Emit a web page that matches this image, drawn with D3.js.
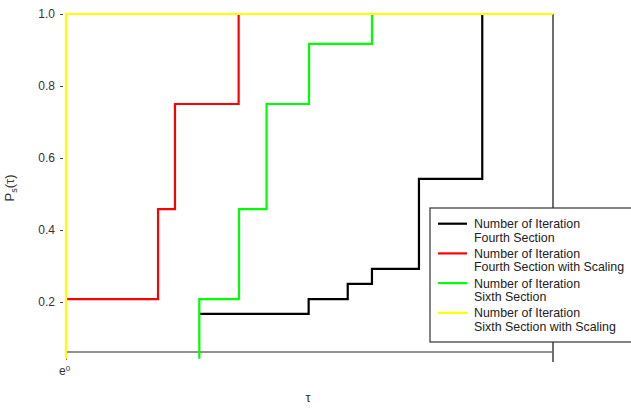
<!DOCTYPE html>
<html>
<head>
<meta charset="utf-8">
<script src="https://cdn.jsdelivr.net/npm/d3@7"></script>
<style>
  body { margin: 0; background: #fff; }
  svg { display: block; font-family: "Liberation Sans", Arial, sans-serif; }
</style>
</head>
<body>
<div id="chart"></div>
<script>
// x values are ln(tau), y values are P_s(tau)
const blackX = [1.095, 1.993, 2.314, 2.513, 2.899, 3.419, 4.0];
const blackY = [0.167, 0.208, 0.250, 0.292, 0.542, 1.0, 1.0];
const redX = [0, 0.756, 0.895, 1.418, 4.0];
const redY = [0.208, 0.458, 0.750, 1.0, 1.0];
const greenX = [1.095, 1.095, 1.421, 1.647, 1.996, 2.513, 4.0];
const greenY = [0.042, 0.208, 0.458, 0.750, 0.917, 1.0, 1.0];
const yellowX = [0, 0, 4.0];
const yellowY = [0.042, 1.0, 1.0];

const seriesNames = [
    ["Number of Iteration", "Fourth Section"],
    ["Number of Iteration", "Fourth Section with Scaling"],
    ["Number of Iteration", "Sixth Section"],
    ["Number of Iteration", "Sixth Section with Scaling"]
];
const seriesColors = ["#000000", "#ff0000", "#00ff00", "#ffff00"];
const yTicks = [0.2, 0.4, 0.6, 0.8, 1.0];

const series = [
    { xs: blackX, ys: blackY },
    { xs: redX, ys: redY },
    { xs: greenX, ys: greenY },
    { xs: yellowX, ys: yellowY }
].map((s, i) => ({
    name: seriesNames[i],
    color: seriesColors[i],
    values: s.xs.map((x, j) => ({ x: x, y: s.ys[j] }))
}));

const W = 631, H = 409;
const margin = { top: 14, right: 78, bottom: 57, left: 66 };
const width = W - margin.left - margin.right;
const height = H - margin.top - margin.bottom;

const svg = d3.select("#chart").append("svg")
    .attr("width", W)
    .attr("height", H);

const g = svg.append("g")
    .attr("transform", `translate(${margin.left},${margin.top})`);

const x = d3.scaleLinear().domain([0, 4.0]).range([0, width]);
const y = d3.scaleLinear().domain([0.061, 1.0]).range([height, 0]);

// frame: bottom axis line and right edge
g.append("line")
    .attr("x1", 0).attr("x2", width)
    .attr("y1", height).attr("y2", height)
    .attr("stroke", "#6e6e6e").attr("stroke-width", 1.5);
g.append("line")
    .attr("x1", width).attr("x2", width)
    .attr("y1", 0).attr("y2", height + 10)
    .attr("stroke", "#6e6e6e").attr("stroke-width", 2);

// y axis
const yAxis = g.append("g")
    .attr("transform", "translate(-3,0)")
    .call(d3.axisLeft(y).tickValues(yTicks).tickFormat(d3.format(".1f")).tickSize(3).tickPadding(5));
yAxis.select(".domain").remove();
yAxis.selectAll(".tick line").attr("stroke", "#444");
yAxis.selectAll("text").attr("fill", "#333").style("font-size", "12px")
    .style("font-family", "'Liberation Sans', Arial, sans-serif");

// x axis
const xAxis = g.append("g")
    .attr("transform", `translate(0,${height})`)
    .call(d3.axisBottom(x).tickValues([0]).tickFormat(() => "e").tickSize(8).tickPadding(6));
xAxis.select(".domain").remove();
xAxis.selectAll(".tick line").attr("stroke", "#6e6e6e");
xAxis.selectAll("text").attr("fill", "#333").style("font-size", "12px")
    .style("font-family", "'Liberation Sans', Arial, sans-serif")
    .attr("dx", "-2")
    .append("tspan").attr("dy", "-0.45em").style("font-size", "8px").text("0");

// axis titles
const yt = svg.append("text")
    .attr("transform", "translate(14,188) rotate(-90)")
    .attr("text-anchor", "middle")
    .attr("fill", "#333")
    .style("font-size", "13px");
yt.append("tspan").text("P");
yt.append("tspan").attr("dy", "3").style("font-size", "9px").text("s");
yt.append("tspan").attr("dy", "-3").text("(τ)");

svg.append("text")
    .attr("x", 308).attr("y", 402)
    .attr("text-anchor", "middle")
    .attr("fill", "#333")
    .style("font-size", "13px")
    .text("τ");

// step lines
const line = d3.line()
    .x(d => x(d.x))
    .y(d => y(d.y))
    .curve(d3.curveStepAfter);

g.selectAll(".series")
    .data(series)
    .enter()
    .append("path")
    .attr("class", "series")
    .attr("d", d => line(d.values))
    .attr("fill", "none")
    .attr("stroke", d => d.color)
    .attr("stroke-width", 2.2);

// legend
const legend = svg.append("g").attr("transform", "translate(430,208)");
legend.append("rect")
    .attr("x", 0).attr("y", 0)
    .attr("width", 220).attr("height", 134)
    .attr("fill", "#fff")
    .attr("stroke", "#333")
    .attr("stroke-width", 1.2);

const item = legend.selectAll(".legend-item")
    .data(series)
    .enter()
    .append("g")
    .attr("class", "legend-item")
    .attr("transform", (d, i) => `translate(0,${15.7 + i * 29.7})`);

item.append("line")
    .attr("x1", 8).attr("x2", 37)
    .attr("y1", 0).attr("y2", 0)
    .attr("stroke", d => d.color)
    .attr("stroke-width", 2.2);

item.append("text")
    .attr("x", 44).attr("y", 4.5)
    .attr("fill", "#222")
    .style("font-size", "12.4px")
    .text(d => d.name[0]);
item.append("text")
    .attr("x", 44).attr("y", 17.9)
    .attr("fill", "#222")
    .style("font-size", "12.4px")
    .text(d => d.name[1]);
</script>
</body>
</html>
